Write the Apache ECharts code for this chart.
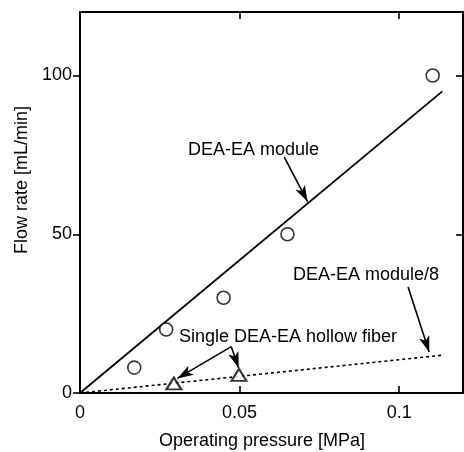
<!DOCTYPE html>
<html>
<head>
<meta charset="utf-8">
<script src="https://cdn.jsdelivr.net/npm/echarts@6/dist/echarts.min.js"></script>
<style>html,body{margin:0;padding:0;background:#fff;}#c{width:464px;height:452px;}</style>
</head>
<body>
<div id="c"></div>
<script>
// Data
var moduleX = [0.017, 0.027, 0.045, 0.065, 0.1105];
var moduleY = [8, 20, 30, 50, 100];
var fiberX = [0.0294, 0.0498];
var fiberY = [3.0, 5.7];
var fitX = [0, 0.1135];
var fitModuleY = [0, 95];
var fitModule8Y = [0, 11.9];
var xTicks = [0, 0.05, 0.1];
var yTicks = [0, 50, 100];
var xTitle = 'Operating pressure [MPa]';
var yTitle = 'Flow rate [mL/min]';
var labelModule = 'DEA-EA module';
var labelModule8 = 'DEA-EA module/8';
var labelFiber = 'Single DEA-EA hollow fiber';

var FONT = '"Liberation Sans", Arial, sans-serif';
function pairs(xs, ys) { return xs.map(function (x, i) { return [x, ys[i]]; }); }

var chart = echarts.init(document.getElementById('c'), null, {renderer: 'canvas'});
var axisLine = {show: true, onZero: false, lineStyle: {color: '#000', width: 2}};
var baseX = {type: 'value', min: 0, max: 0.12, interval: 0.05, splitLine: {show: false}, axisLine: axisLine};
var baseY = {type: 'value', min: 0, max: 120, interval: 50, splitLine: {show: false}, axisLine: axisLine};
var arrowStyle = {color: '#000', width: 1.6, type: 'solid'};
function arrow(a, b) { return [{coord: a}, {coord: b}]; }
var tickStyle = {color: '#000', width: 1.6};

chart.setOption({
  animation: false,
  grid: {left: 80, right: 1, top: 12, bottom: 59},
  xAxis: [
    Object.assign({}, baseX, {position: 'bottom',
      axisTick: {show: true, inside: true, length: 7, customValues: xTicks, lineStyle: tickStyle},
      axisLabel: {show: true, margin: 11, customValues: xTicks, color: '#000', fontSize: 18, fontFamily: FONT,
        formatter: function (v) { return String(v); }}}),
    Object.assign({}, baseX, {position: 'top',
      axisTick: {show: true, inside: true, length: 7, customValues: xTicks, lineStyle: tickStyle},
      axisLabel: {show: false}})
  ],
  yAxis: [
    Object.assign({}, baseY, {position: 'left',
      axisTick: {show: true, inside: false, length: 7, customValues: yTicks, lineStyle: tickStyle},
      axisLabel: {show: true, margin: 8, customValues: yTicks, color: '#000', fontSize: 18, fontFamily: FONT}}),
    Object.assign({}, baseY, {position: 'right',
      axisTick: {show: true, inside: true, length: 7, customValues: yTicks, lineStyle: tickStyle},
      axisLabel: {show: false}})
  ],
  series: [
    {type: 'line', data: pairs(fitX, fitModuleY), symbol: 'none', lineStyle: {color: '#000', width: 1.8}, z: 2,
      markLine: {silent: true, symbol: ['none', 'arrow'], symbolSize: [8, 16], label: {show: false},
        lineStyle: arrowStyle,
        data: [
          arrow([0.064, 74.3], [0.0713, 60.3]),
          arrow([0.1028, 33.4], [0.1094, 12.9]),
          arrow([0.0474, 14.6], [0.0305, 4.6]),
          arrow([0.0474, 14.6], [0.0497, 7.9])
        ]}},
    {type: 'line', data: pairs(fitX, fitModule8Y), symbol: 'none', lineStyle: {color: '#000', width: 1.6, type: [3, 3]}, z: 2},
    {type: 'scatter', data: pairs(moduleX, moduleY), symbol: 'circle', symbolSize: 13,
      itemStyle: {color: '#fff', borderColor: '#000', borderWidth: 1.6}, z: 3},
    {type: 'scatter', data: pairs(fiberX, fiberY), symbol: 'triangle', symbolSize: [15, 12],
      itemStyle: {color: '#fff', borderColor: '#000', borderWidth: 2}, z: 3}
  ],
  graphic: [
    {type: 'text', x: 262, y: 441, style: {text: xTitle, font: '18px ' + FONT, fill: '#000', align: 'center', verticalAlign: 'middle'}},
    {type: 'text', x: 22, y: 180, rotation: Math.PI / 2, style: {text: yTitle, font: '18px ' + FONT, fill: '#000', align: 'center', verticalAlign: 'middle'}},
    {type: 'text', x: 188, y: 150, style: {text: labelModule, font: '18px ' + FONT, fill: '#000', align: 'left', verticalAlign: 'middle'}},
    {type: 'text', x: 439, y: 275, style: {text: labelModule8, font: '18px ' + FONT, fill: '#000', align: 'right', verticalAlign: 'middle'}},
    {type: 'text', x: 179, y: 337, style: {text: labelFiber, font: '18px ' + FONT, fill: '#000', align: 'left', verticalAlign: 'middle'}}
  ]
});
</script>
</body>
</html>
